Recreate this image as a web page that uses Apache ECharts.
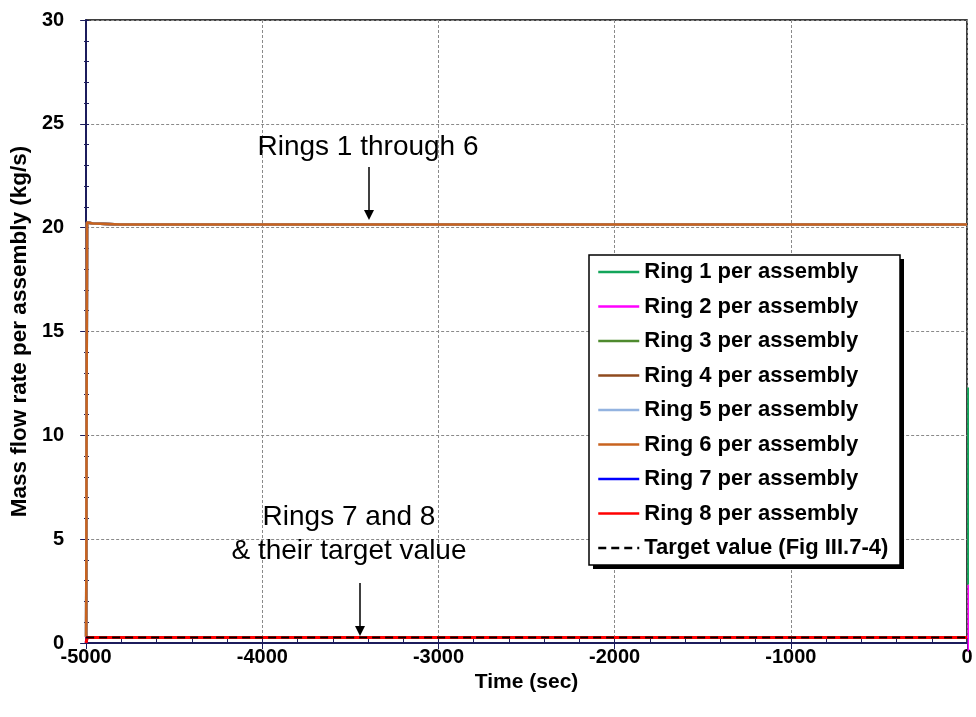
<!DOCTYPE html>
<html>
<head>
<meta charset="utf-8">
<script src="https://cdn.jsdelivr.net/npm/echarts@6/dist/echarts.min.js"></script>
<style>
  html, body { margin: 0; padding: 0; background: #fff; }
  #chart { width: 976px; height: 717px; }
</style>
</head>
<body>
<div id="chart"></div>
<script>
// Mass flow rate per assembly during the steady-state run-in (t < 0)
const ringNames = [
  'Ring 1 per assembly', 'Ring 2 per assembly', 'Ring 3 per assembly',
  'Ring 4 per assembly', 'Ring 5 per assembly', 'Ring 6 per assembly',
  'Ring 7 per assembly', 'Ring 8 per assembly'
];
const targetName = 'Target value (Fig III.7-4)';

// Rings 1-6 (sec, kg/s)
const innerTime = [-5000, -4995, -4960, -4800, -2500, 0];
const ring1Flow = [0.3, 20.25, 20.2, 20.15, 20.15, 20.15];
const ring2Flow = [0.3, 20.25, 20.2, 20.15, 20.15, 20.15];
const ring3Flow = [0.3, 20.25, 20.2, 20.15, 20.15, 20.15];
const ring4Flow = [0.3, 20.25, 20.2, 20.15, 20.15, 20.15];
const ring5Flow = [0.3, 20.25, 20.2, 20.15, 20.15, 20.15];
const ring6Flow = [0.3, 20.25, 20.2, 20.15, 20.15, 20.15];

// Start of the transient just after t = 0 (null breaks the line)
const ring1TailTime = [0, 8, 8];
const ring1TailFlow = [null, 12.3, 2.8];
const ring2TailTime = [0, 10, 10];
const ring2TailFlow = [null, 2.8, -0.4];

// Rings 7 and 8 and their target
const outerTime = [-5000, -4995, -2500, 0];
const ring7Flow = [0.0, 0.27, 0.27, 0.27];
const ring8Flow = [0.0, 0.27, 0.27, 0.27];
const targetTime = [-5000, 0];
const targetFlow = [0.27, 0.27];

// Axis ticks
const xTicks = { min: -5000, max: 0, major: 1000, minor: 200 };
const yTicks = { min: 0, max: 30, major: 5, minor: 1 };

const ringColors = ['#13a55a', '#ff00ff', '#4e8a2e', '#8f4a1e', '#93b3e0', '#c8631f', '#0000ff', '#ff0000'];

function pairs(xs, ys) { return xs.map((x, i) => [x, ys[i]]); }

const ringData = [
  pairs(innerTime, ring1Flow).concat(pairs(ring1TailTime, ring1TailFlow)),
  pairs(innerTime, ring2Flow).concat(pairs(ring2TailTime, ring2TailFlow)),
  pairs(innerTime, ring3Flow),
  pairs(innerTime, ring4Flow),
  pairs(innerTime, ring5Flow),
  pairs(innerTime, ring6Flow),
  pairs(outerTime, ring7Flow),
  pairs(outerTime, ring8Flow)
];

const NAVY = '#1c1c5c';
const FONT = 'Liberation Sans, Arial, sans-serif';

const series = ringData.map((d, i) => ({
  name: ringNames[i],
  type: 'line',
  data: d,
  symbol: 'none',
  connectNulls: false,
  clip: false,
  animation: false,
  lineStyle: { color: ringColors[i], width: i >= 6 ? 3 : 2.5 },
  itemStyle: { color: ringColors[i] }
}));
series.push({
  name: targetName,
  type: 'line',
  data: pairs(targetTime, targetFlow),
  symbol: 'none',
  clip: false,
  animation: false,
  lineStyle: { color: '#000', width: 2, type: [8, 5] },
  itemStyle: { color: '#000' }
});

const chart = echarts.init(document.getElementById('chart'), null, { renderer: 'canvas' });

const gridLine = { show: true, lineStyle: { color: '#8a8a8a', width: 1, type: [3, 2] } };
const plainNumber = v => String(v);

chart.setOption({
  animation: false,
  backgroundColor: '#fff',
  grid: { left: 84, right: 9, top: 20, bottom: 74, containLabel: false,
          show: true, borderColor: '#000', borderWidth: 1.5, backgroundColor: 'transparent' },
  xAxis: [
    {
      type: 'value', min: xTicks.min, max: xTicks.max, interval: xTicks.major, position: 'bottom',
      name: 'Time (sec)', nameLocation: 'middle', nameGap: 23,
      nameTextStyle: { fontFamily: FONT, fontWeight: 'bold', fontSize: 21, color: '#000' },
      axisLine: { show: true, onZero: false, lineStyle: { color: NAVY, width: 2 } },
      axisTick: { show: true, inside: false, length: 6, lineStyle: { color: NAVY, width: 1 } },
      axisLabel: { fontFamily: FONT, fontWeight: 'bold', fontSize: 20, color: '#000', margin: 4, formatter: plainNumber },
      splitLine: gridLine
    },
    {
      // minor ticks along the bottom edge, pointing into the plot
      type: 'value', min: xTicks.min, max: xTicks.max, interval: xTicks.minor, position: 'top', offset: -623,
      axisLine: { show: false, onZero: false },
      axisTick: { show: true, inside: false, length: 5, lineStyle: { color: NAVY, width: 1 } },
      axisLabel: { show: false }, splitLine: { show: false }
    }
  ],
  yAxis: [
    {
      type: 'value', min: yTicks.min, max: yTicks.max, interval: yTicks.major, position: 'left',
      name: 'Mass flow rate per assembly (kg/s)', nameLocation: 'middle', nameGap: 47,
      nameTextStyle: { fontFamily: FONT, fontWeight: 'bold', fontSize: 22.5, color: '#000' },
      axisLine: { show: true, onZero: false, lineStyle: { color: NAVY, width: 2 } },
      axisTick: { show: true, inside: false, length: 6, lineStyle: { color: NAVY, width: 1 } },
      axisLabel: { fontFamily: FONT, fontWeight: 'bold', fontSize: 20, color: '#000', margin: 22, formatter: plainNumber },
      splitLine: gridLine
    },
    {
      // minor ticks along the left edge, pointing into the plot
      type: 'value', min: yTicks.min, max: yTicks.max, interval: yTicks.minor, position: 'right', offset: -883,
      axisLine: { show: false, onZero: false },
      axisTick: { show: true, inside: false, length: 5, lineStyle: { color: NAVY, width: 1 } },
      axisLabel: { show: false }, splitLine: { show: false }
    }
  ],
  legend: {
    orient: 'vertical', left: 597, top: 261, padding: 0, z: 8,
    itemWidth: 41, itemHeight: 22, itemGap: 12.5,
    itemStyle: { opacity: 0 },
    lineStyle: { width: 2.5 },
    textStyle: { fontFamily: FONT, fontWeight: 'bold', fontSize: 22, color: '#000', lineHeight: 22 },
    data: ringNames.concat([targetName])
  },
  graphic: [
    // legend frame with drop shadow
    { type: 'rect', z: 6, shape: { x: 593, y: 259, width: 311, height: 310 }, style: { fill: '#000' } },
    { type: 'rect', z: 7, shape: { x: 589, y: 255, width: 311, height: 310 }, style: { fill: '#fff', stroke: '#000', lineWidth: 1.5 } },
    // annotations
    { type: 'text', z: 9, style: { text: 'Rings 1 through 6', x: 368, y: 147, align: 'center', verticalAlign: 'middle', font: '28px ' + FONT, fill: '#000' } },
    { type: 'line', z: 9, shape: { x1: 369, y1: 167, x2: 369, y2: 212 }, style: { stroke: '#000', lineWidth: 1.5 } },
    { type: 'polygon', z: 9, shape: { points: [[364, 210], [374, 210], [369, 220]] }, style: { fill: '#000' } },
    { type: 'text', z: 9, style: { text: 'Rings 7 and 8', x: 349, y: 517, align: 'center', verticalAlign: 'middle', font: '28px ' + FONT, fill: '#000' } },
    { type: 'text', z: 9, style: { text: '& their target value', x: 349, y: 551, align: 'center', verticalAlign: 'middle', font: '28px ' + FONT, fill: '#000' } },
    { type: 'line', z: 9, shape: { x1: 360, y1: 583, x2: 360, y2: 627 }, style: { stroke: '#000', lineWidth: 1.5 } },
    { type: 'polygon', z: 9, shape: { points: [[355, 626], [365, 626], [360, 636]] }, style: { fill: '#000' } }
  ],
  series: series
});
</script>
</body>
</html>
